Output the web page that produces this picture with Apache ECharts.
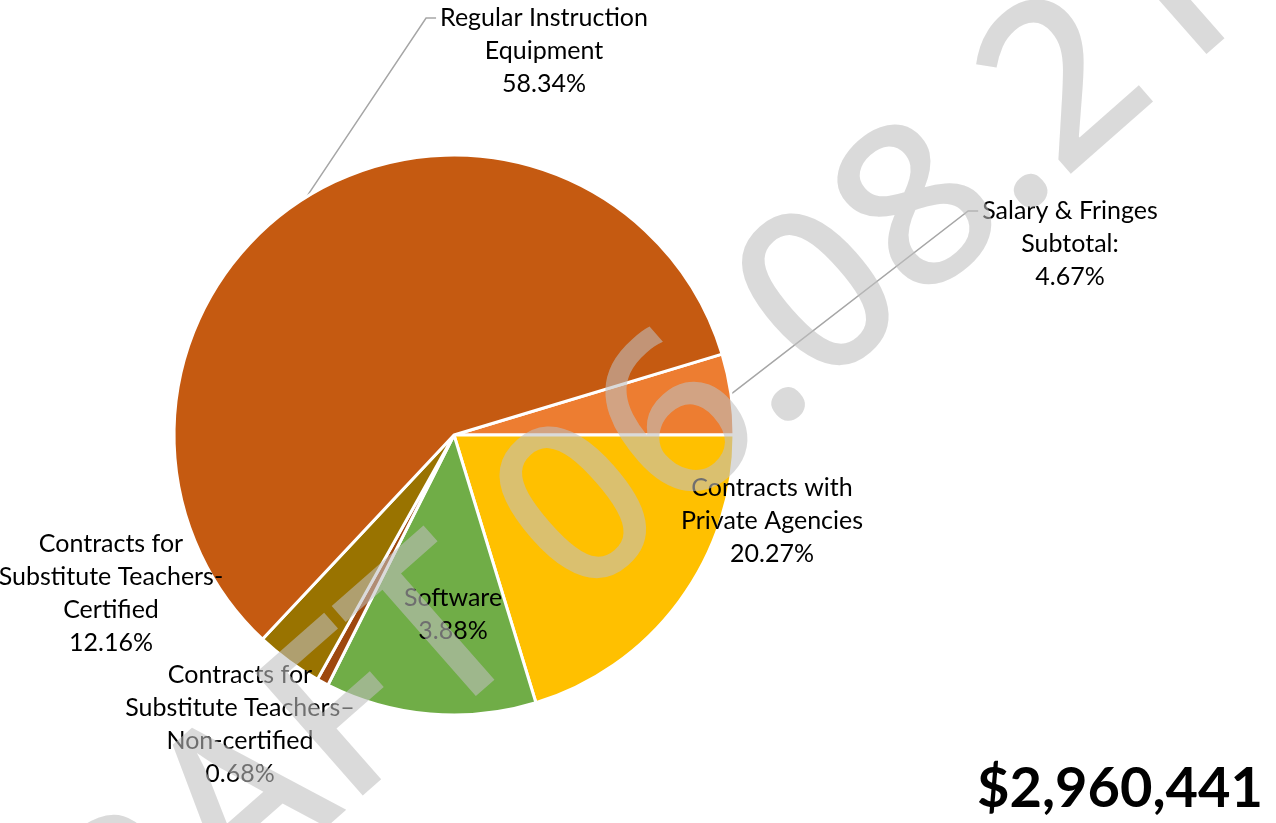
<!DOCTYPE html>
<html>
<head>
<meta charset="utf-8">
<script src="https://cdn.jsdelivr.net/npm/echarts@6/dist/echarts.min.js"></script>
<style>html,body{margin:0;padding:0;background:#fff;}#chart{width:1276px;height:823px;}</style>
</head>
<body>
<div id="chart"></div>
<script>
// Data (clockwise from the slice just above 3 o'clock)
const categories = [
  'Salary & Fringes\nSubtotal:',
  'Contracts with\nPrivate Agencies',
  'Contracts for\nSubstitute Teachers-\nCertified',
  'Contracts for\nSubstitute Teachers\u2013\nNon-certified',
  'Software',
  'Regular Instruction\nEquipment'
];
const values = [4.67, 20.27, 12.16, 0.68, 3.88, 58.34];
const totalText = '$2,960,441';
const watermarkText = 'DRAFT 06.08.21';

// Styles / label placement (kept apart from data)
const colors = ['#ED7D31', '#FFC000', '#70AD47', '#9E480E', '#997300', '#C55A11'];
const labelCenters = [[1070, 244], [772, 521], [111, 593], [240, 724], [453, 614], [544, 51]];
const withLeader = [true, false, false, false, false, true];
const LINE_H = 33;

const chart = echarts.init(document.getElementById('chart'), null, {renderer: 'canvas'});

const data = categories.map((c, i) => ({
  name: c,
  value: values[i],
  itemStyle: {color: colors[i]},
  labelLine: {show: withLeader[i]}
}));

chart.setOption({
  animation: false,
  title: {
    text: totalText,
    right: 8,
    bottom: 1,
    textStyle: {fontFamily: 'Lato', fontWeight: 'bold', fontSize: 56, color: '#000'}
  },
  series: [{
    type: 'pie',
    center: [454, 435],
    radius: 280,
    startAngle: 16.8,
    clockwise: true,
    avoidLabelOverlap: false,
    emphasis: {disabled: true},
    itemStyle: {borderColor: '#fff', borderWidth: 3},
    label: {
      show: true,
      position: 'outside',
      fontFamily: 'Lato',
      fontSize: 25,
      lineHeight: LINE_H,
      color: '#000',
      align: 'center',
      formatter: p => p.name + '\n' + p.value.toFixed(2) + '%'
    },
    labelLine: {
      show: true,
      lineStyle: {color: '#A6A6A6', width: 1.5}
    },
    labelLayout: function (params) {
      const i = params.dataIndex;
      const c = labelCenters[i];
      const w = params.labelRect.width;
      const h = params.labelRect.height;
      const out = {x: c[0], y: c[1], align: 'center', verticalAlign: 'middle'};
      if (withLeader[i] && params.labelLinePoints) {
        const left = c[0] - w / 2;
        const yLine = c[1] - h / 2 + LINE_H / 2;
        const start = params.labelLinePoints[0];
        out.labelLinePoints = [start, [left - 14, yLine], [left - 4, yLine]];
      }
      return out;
    },
    data: data
  }],
  graphic: [{
    type: 'text',
    z: 100,
    x: 587,
    y: 512,
    rotation: 41.3 * Math.PI / 180,
    silent: true,
    style: {
      text: watermarkText,
      fontFamily: 'Noto Sans',
      fontWeight: 500,
      fontSize: 228,
      fill: 'rgba(191,191,191,0.58)',
      align: 'center',
      verticalAlign: 'middle'
    }
  }]
});
</script>
</body>
</html>
